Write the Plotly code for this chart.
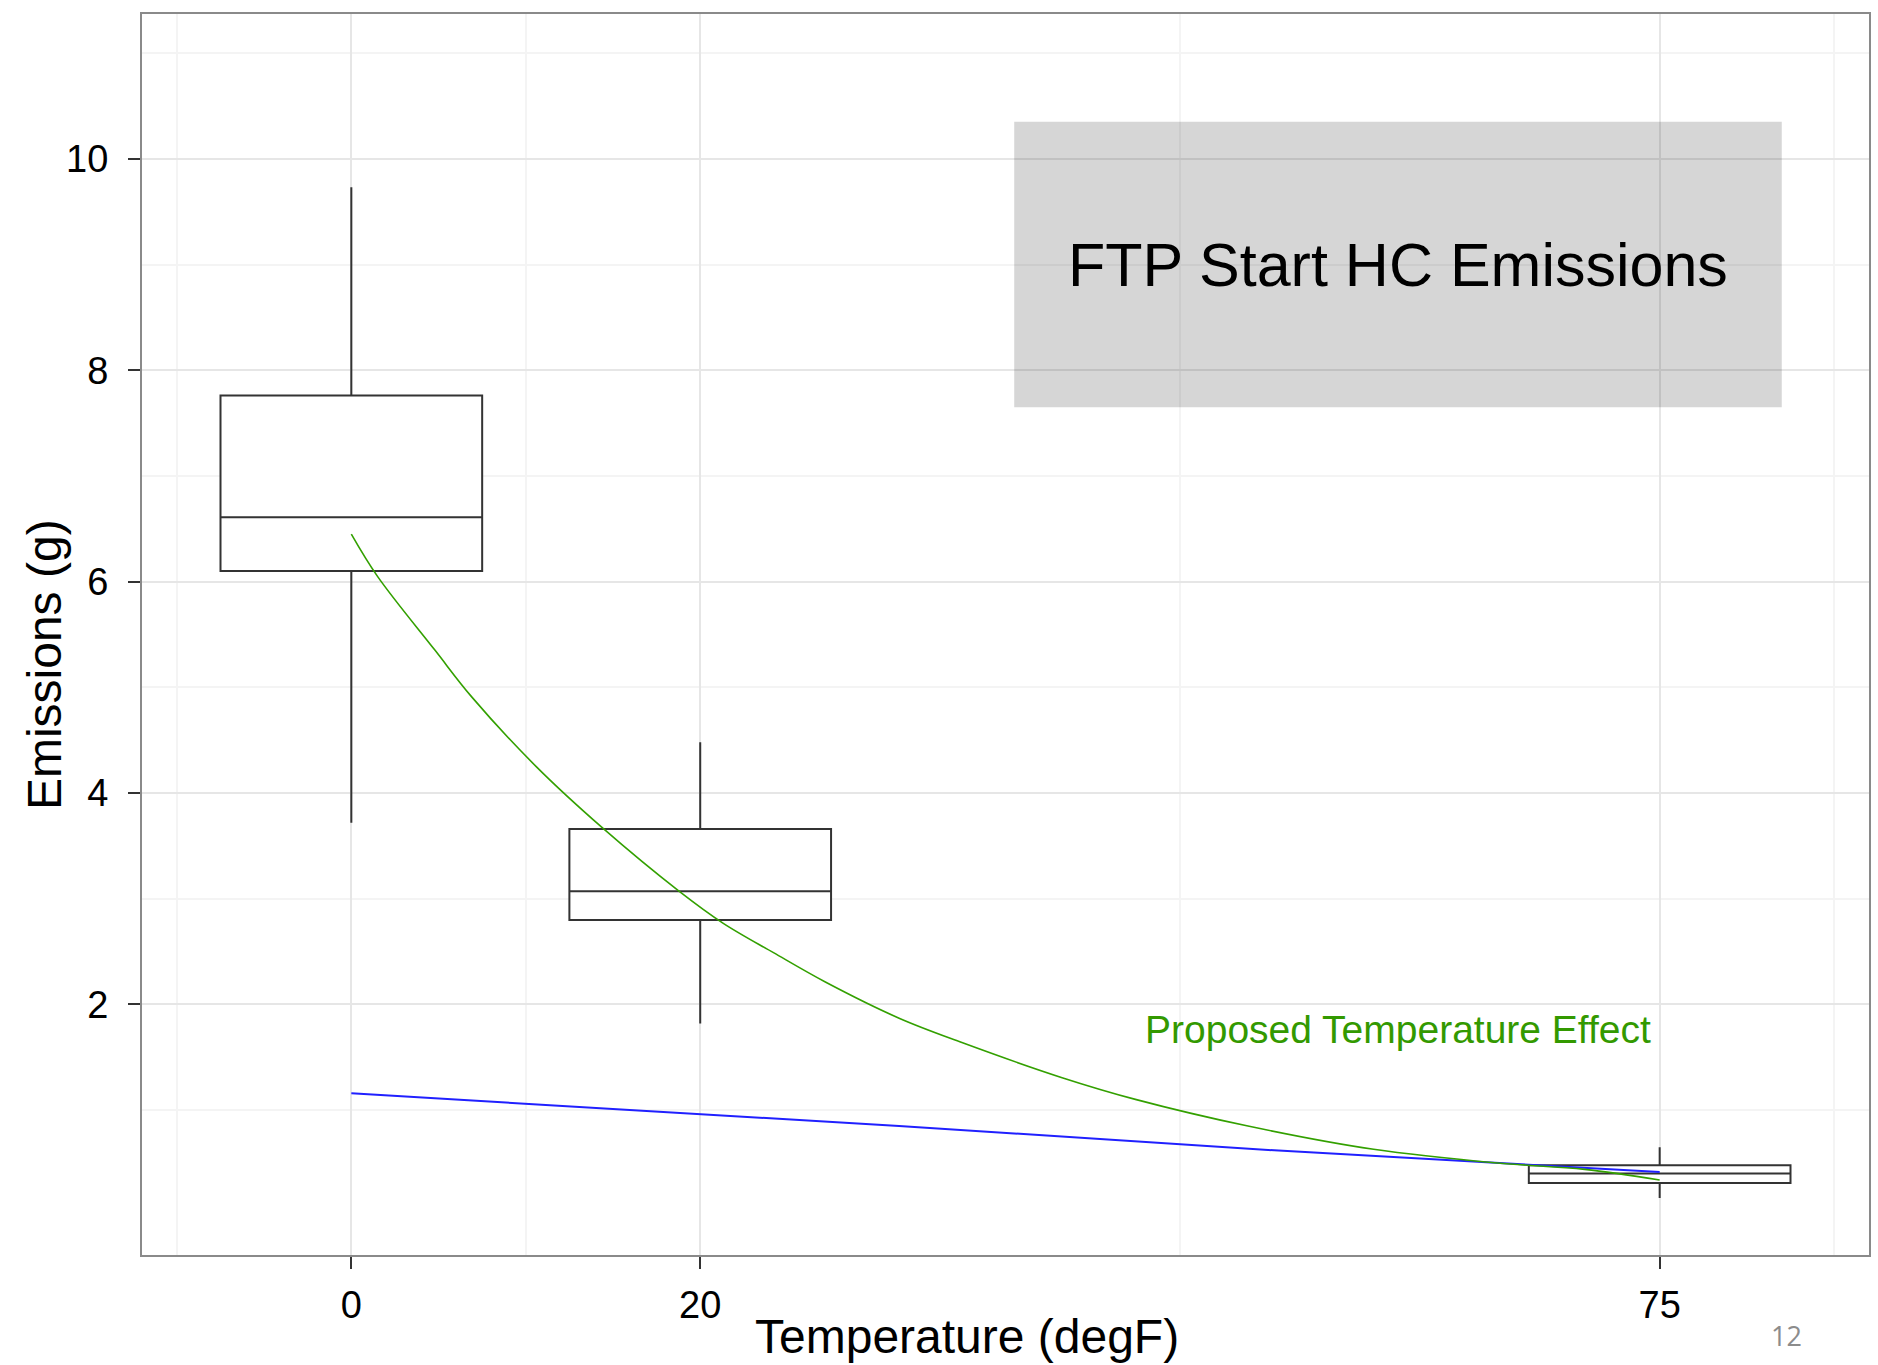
import plotly.graph_objects as go

# ---- data ----
box_temps = [0, 20, 75]
box_lowerfence = [3.72, 1.82, 0.17]
box_q1 = [6.10, 2.80, 0.31]
box_median = [6.61, 3.07, 0.40]
box_q3 = [7.76, 3.66, 0.48]
box_upperfence = [9.73, 4.48, 0.65]

green_temps = [0, 1.5, 4.8, 6.9, 10.6, 14.4, 18.8, 21.3, 24.2, 27.2, 31.4, 35.0,
               40.7, 45.0, 51.4, 58.6, 65.7, 70.7, 75]
green_values = [6.45, 6.05, 5.35, 4.91, 4.25, 3.67, 3.07, 2.77, 2.49, 2.21, 1.87, 1.64,
                1.31, 1.10, 0.85, 0.63, 0.50, 0.44, 0.34]

blue_temps = [0, 20, 31.4, 52.9, 67.2, 75]
blue_values = [1.16, 0.965, 0.85, 0.62, 0.49, 0.415]

x_ticks = [0, 20, 75]
x_minor = [-10, 10, 47.5, 85]
y_ticks = [2, 4, 6, 8, 10]
y_minor = [1, 3, 5, 7, 9, 11]

title_text = "FTP Start HC Emissions"
effect_label = "Proposed Temperature Effect"
x_title = "Temperature (degF)"
y_title = "Emissions (g)"
page_number = "12"

FONT = "Liberation Sans, Arial, sans-serif"

fig = go.Figure()

fig.add_trace(go.Box(
    x=box_temps, q1=box_q1, median=box_median, q3=box_q3,
    lowerfence=box_lowerfence, upperfence=box_upperfence,
    width=15, whiskerwidth=0, fillcolor="white",
    line=dict(color="#333333", width=2), boxpoints=False,
    showlegend=False, hoverinfo="skip",
))

fig.add_trace(go.Scatter(
    x=blue_temps, y=blue_values, mode="lines",
    line=dict(color="#2020ff", width=2), showlegend=False,
))

fig.add_trace(go.Scatter(
    x=green_temps, y=green_values, mode="lines",
    line=dict(color="#33a000", width=1.6, shape="spline", smoothing=1.0),
    showlegend=False,
))

# translucent title panel
fig.add_shape(type="rect", xref="x", yref="y", x0=38, x1=82, y0=7.65, y1=10.35,
              fillcolor="rgba(0,0,0,0.16)", line=dict(width=0), layer="between")

fig.add_annotation(x=60, y=9.0, xref="x", yref="y", text=title_text, showarrow=False,
                   font=dict(family=FONT, size=61, color="#000000"),
                   xanchor="center", yanchor="middle")
fig.add_annotation(x=60, y=1.76, xref="x", yref="y", text=effect_label, showarrow=False,
                   font=dict(family=FONT, size=39, color="#339900"),
                   xanchor="center", yanchor="middle")

fig.add_annotation(x=0.4777, y=-0.0653, xref="paper", yref="paper", text=x_title,
                   showarrow=False, font=dict(family=FONT, size=48, color="#000000"),
                   xanchor="center", yanchor="middle")
fig.add_annotation(x=-0.0567, y=0.4754, xref="paper", yref="paper", text=y_title,
                   showarrow=False, textangle=-90,
                   font=dict(family=FONT, size=48, color="#000000"),
                   xanchor="center", yanchor="middle")
fig.add_annotation(x=0.952, y=-0.0645, xref="paper", yref="paper", text=page_number,
                   showarrow=False, font=dict(family="Open Sans, sans-serif", size=27,
                                              color="#8c8c8c"),
                   xanchor="center", yanchor="middle")

axis_common = dict(
    showline=True, mirror=True, linecolor="#8a8a8a", linewidth=2,
    ticks="outside", ticklen=12, tickwidth=2, tickcolor="#333333",
    showgrid=True, gridcolor="#e6e6e6", gridwidth=2, zeroline=False,
    tickfont=dict(family=FONT, size=38, color="#000000"),
)

fig.update_xaxes(range=[-12, 87], tickmode="array", tickvals=x_ticks,
                 minor=dict(tickmode="array", tickvals=x_minor, showgrid=True,
                            gridcolor="#f4f4f4", gridwidth=2, ticks=""),
                 ticklabelstandoff=3, **axis_common)
fig.update_yaxes(range=[-0.37, 11.37], tickmode="array", tickvals=y_ticks,
                 minor=dict(tickmode="array", tickvals=y_minor, showgrid=True,
                            gridcolor="#f4f4f4", gridwidth=2, ticks=""),
                 ticklabelstandoff=12, **axis_common)

fig.update_layout(
    width=1878, height=1365, autosize=False,
    margin=dict(l=142, r=7, t=14, b=110),
    paper_bgcolor="white", plot_bgcolor="white",
    showlegend=False,
)

fig.write_html("out.html")
